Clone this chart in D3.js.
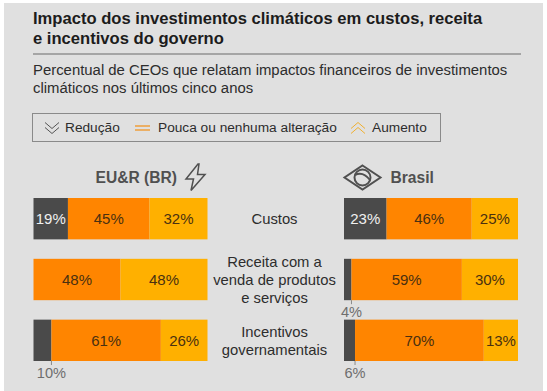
<!DOCTYPE html>
<html>
<head>
<meta charset="utf-8">
<script src="https://cdn.jsdelivr.net/npm/d3@7"></script>
<style>
  html, body { margin: 0; padding: 0; background: #fff; }
  svg { display: block; font-family: "Liberation Sans", Arial, sans-serif; }
</style>
</head>
<body>
<svg id="chart" width="547" height="391"></svg>
<script>
const categories = ["Custos", "Receita", "Incentivos"];
const categoryLabels = [["Custos"], ["Receita com a", "venda de produtos", "e serviços"], ["Incentivos", "governamentais"]];
const seriesNames = ["Redução", "Pouca ou nenhuma alteração", "Aumento"];

// EU&R (BR)
const reducaoEur = [19, 0, 10];
const poucaEur = [45, 48, 61];
const aumentoEur = [32, 48, 26];

// Brasil
const reducaoBr = [23, 4, 6];
const poucaBr = [46, 59, 70];
const aumentoBr = [25, 30, 13];
// the 13% segment is wider than its label in the original, so it gets its own drawn value
const aumentoBrDrawn = [25, 30, 18.6];

const svg = d3.select("#chart");
const width = +svg.attr("width");
const height = +svg.attr("height");

const colors = ["#4a4a4a", "#ff8500", "#ffb000"];
const textColor = "#2d2d2d";
const grey = "#505050";

svg.append("rect")
  .attr("x", 4).attr("y", 3)
  .attr("width", width - 8).attr("height", height - 3)
  .attr("fill", "#e0e0e0");

// Title block
const title = svg.append("g").attr("fill", "#1c1c1c").attr("font-weight", "bold").attr("font-size", 16.6);
title.append("text").attr("x", 33).attr("y", 24).text("Impacto dos investimentos climáticos em custos, receita");
title.append("text").attr("x", 33).attr("y", 44).text("e incentivos do governo");

svg.append("line")
  .attr("x1", 33).attr("x2", 521)
  .attr("y1", 54).attr("y2", 54)
  .attr("stroke", "#6a6a6a");

const sub = svg.append("g").attr("fill", textColor).attr("font-size", 14.9);
sub.append("text").attr("x", 33).attr("y", 75).text("Percentual de CEOs que relatam impactos financeiros de investimentos");
sub.append("text").attr("x", 33).attr("y", 93).text("climáticos nos últimos cinco anos");

// Legend
svg.append("rect")
  .attr("x", 32.5).attr("y", 113.5)
  .attr("width", 408).attr("height", 28)
  .attr("fill", "none")
  .attr("stroke", "#8a8a8a");

const legend = svg.append("g").attr("fill", textColor).attr("font-size", 13.7);
legend.append("text").attr("x", 65).attr("y", 132).text(seriesNames[0]);
legend.append("text").attr("x", 158).attr("y", 132).text(seriesNames[1]);
legend.append("text").attr("x", 372).attr("y", 132).text(seriesNames[2]);

function chevrons(x, y, dir, color) {
  // two stacked chevrons, dir 1 points down, -1 points up
  [-2.5, 2.5].forEach(o => {
    svg.append("path")
      .attr("d", `M${x - 7},${y + o - dir * 3}L${x},${y + o + dir * 3}L${x + 7},${y + o - dir * 3}`)
      .attr("fill", "none")
      .attr("stroke", color)
      .attr("stroke-width", 1);
  });
}
chevrons(52, 128, 1, "#555");
chevrons(358, 128, -1, "#f0b030");
[126, 130].forEach(y => {
  svg.append("line")
    .attr("x1", 135).attr("x2", 150)
    .attr("y1", y).attr("y2", y)
    .attr("stroke", "#f09a30")
    .attr("stroke-width", 1.4);
});

// Bars
const y = d3.scaleBand()
  .domain(categories)
  .range([198, 361])
  .paddingInner(0.32);

function drawPanel(x0, x1, drawn, printed) {
  const rows = categories.map((c, i) => ({
    category: c,
    reducao: drawn[0][i],
    pouca: drawn[1][i],
    aumento: drawn[2][i]
  }));
  const keys = ["reducao", "pouca", "aumento"];
  const stack = d3.stack().keys(keys).offset(d3.stackOffsetExpand)(rows);

  const x = d3.scaleLinear().domain([0, 1]).range([x0, x1]);

  stack.forEach((layer, k) => {
    svg.append("g")
      .selectAll("rect")
      .data(layer)
      .join("rect")
      .attr("x", d => x(d[0]))
      .attr("y", d => y(d.data.category))
      .attr("width", d => x(d[1]) - x(d[0]))
      .attr("height", y.bandwidth())
      .attr("fill", colors[k]);

    layer.forEach((d, i) => {
      const v = printed[k][i];
      if (!v) return;
      const w = x(d[1]) - x(d[0]);
      const yb = y(d.data.category);
      if (k === 0 && w < 25) {
        // small segment: label under the bar with a tick
        const cx = x(d[1]);
        svg.append("line")
          .attr("x1", cx).attr("x2", cx)
          .attr("y1", yb + y.bandwidth()).attr("y2", yb + y.bandwidth() + 4)
          .attr("stroke", "#8a8a8a");
        svg.append("text")
          .attr("x", cx)
          .attr("y", yb + y.bandwidth() + 17)
          .attr("text-anchor", "middle")
          .attr("font-size", 14.6)
          .attr("fill", "#6e6e6e")
          .text(v + "%");
      } else {
        svg.append("text")
          .attr("x", (x(d[0]) + x(d[1])) / 2)
          .attr("y", yb + y.bandwidth() / 2 + 5.5)
          .attr("text-anchor", "middle")
          .attr("font-size", 15)
          .attr("fill", k === 0 ? "#f0f0f0" : "#4a3010")
          .text(v + "%");
      }
    });
  });
}

drawPanel(33.5, 207.5, [reducaoEur, poucaEur, aumentoEur], [reducaoEur, poucaEur, aumentoEur]);
drawPanel(344, 518, [reducaoBr, poucaBr, aumentoBrDrawn], [reducaoBr, poucaBr, aumentoBr]);

// Category labels in the middle
categoryLabels.forEach((lines, i) => {
  const mid = y(categories[i]) + y.bandwidth() / 2;
  lines.forEach((t, j) => {
    svg.append("text")
      .attr("x", 274.5)
      .attr("y", mid + (j - (lines.length - 1) / 2) * 17.7 + 5.5)
      .attr("text-anchor", "middle")
      .attr("font-size", 14.8)
      .attr("fill", textColor)
      .text(t);
  });
});

// Panel headers
svg.append("text")
  .attr("x", 95.5).attr("y", 183)
  .attr("font-weight", "bold").attr("font-size", 15.6)
  .attr("fill", grey)
  .text("EU&R (BR)");

svg.append("text")
  .attr("x", 390.5).attr("y", 183)
  .attr("font-weight", "bold").attr("font-size", 15.6)
  .attr("fill", grey)
  .text("Brasil");

// Lightning bolt icon
svg.append("path")
  .attr("d", "M198,164L186,179L193.5,179L191,190.5L205,174.5L197.5,174.5L199,164Z")
  .attr("fill", "none")
  .attr("stroke", grey)
  .attr("stroke-width", 1.5);

// Flag icon
svg.append("path")
  .attr("d", "M362.5,165.5L380.5,177.5L362.5,189.5L344.5,177.5Z")
  .attr("fill", "none")
  .attr("stroke", grey)
  .attr("stroke-width", 2);
svg.append("circle")
  .attr("cx", 362.5).attr("cy", 177.5).attr("r", 8)
  .attr("fill", "none")
  .attr("stroke", grey)
  .attr("stroke-width", 2);
svg.append("path")
  .attr("d", "M355,175Q363,171 370,180")
  .attr("fill", "none")
  .attr("stroke", grey)
  .attr("stroke-width", 2);
</script>
</body>
</html>
